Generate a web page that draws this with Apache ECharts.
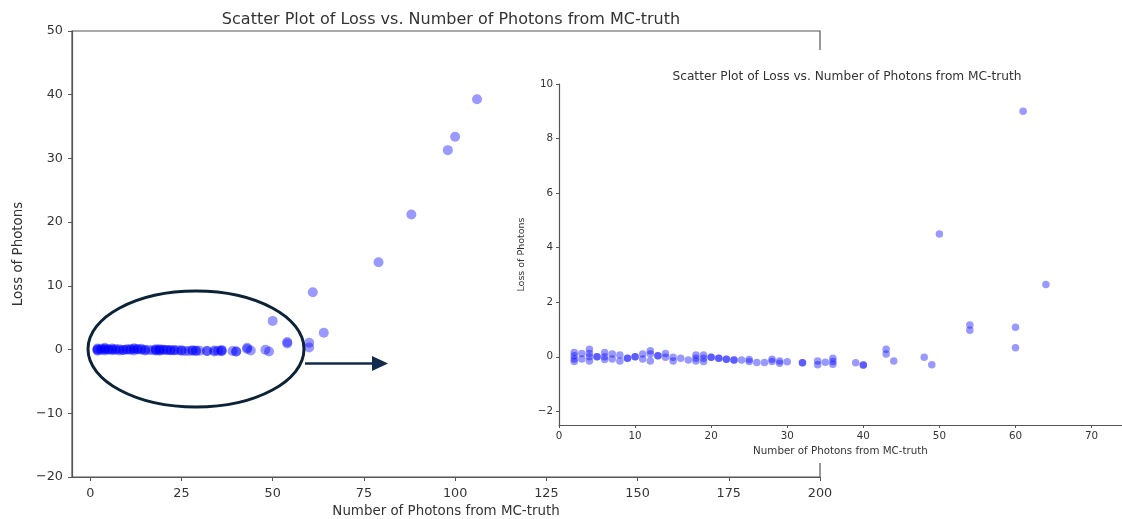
<!DOCTYPE html>
<html>
<head>
<meta charset="utf-8">
<script src="https://cdn.jsdelivr.net/npm/echarts@6/dist/echarts.min.js"></script>
<style>
html,body{margin:0;padding:0;background:#fff;}
#chart{width:1122px;height:519px;}
</style>
</head>
<body>
<div id="chart"></div>
<script>
// ---- data ----
const photons = [
  2,2,2,2, 3,3, 4,4,4,4, 5,5, 6,6,6, 7,7, 8,8, 9,9, 10,10, 11,11, 12,12,12, 13,13,
  14,14, 15,15, 16, 17, 18,18,18, 19,19,19, 20,20, 21,21, 22,22, 23,23, 24, 25,25,
  26, 27, 28,28, 29,29, 30, 32,32, 34,34, 35, 36,36,36, 39, 40,40,
  43,43, 44, 48, 49, 50, 54,54, 60,60, 61, 64, 79, 88, 98, 100, 106
];
const loss = [
  0.16,0.04,-0.08,-0.17, 0.12,-0.08, 0.28,0.12,0.00,-0.15, 0.00,0.00, 0.16,0.00,-0.10, 0.10,-0.08, 0.07,-0.15, -0.05,-0.05, 0.00,0.00, 0.10,-0.08, 0.22,0.10,-0.15, 0.04,0.04,
  0.12,-0.02, -0.02,-0.15, -0.05, -0.12, 0.07,-0.05,-0.15, 0.07,-0.05,-0.17, -0.02,-0.02, -0.05,-0.05, -0.09,-0.09, -0.12,-0.12, -0.12, -0.10,-0.17,
  -0.21, -0.21, -0.09,-0.17, -0.15,-0.24, -0.18, -0.22,-0.22, -0.15,-0.29, -0.20, -0.05,-0.17,-0.27, -0.22, -0.30,-0.30,
  0.28,0.10, -0.15, -0.02, -0.29, 4.50, 1.17,0.97, 1.08,0.33, 9.00, 2.65, 13.7, 21.2, 31.3, 33.4, 39.3
];
const mainXTicks = [0, 25, 50, 75, 100, 125, 150, 175, 200];
const insetXTicks = [0, 10, 20, 30, 40, 50, 60, 70];
const insetYTicks = [-2, 0, 2, 4, 6, 8, 10];
const titleText = 'Scatter Plot of Loss vs. Number of Photons from MC-truth';
const xName = 'Number of Photons from MC-truth';
const yName = 'Loss of Photons';

const points = photons.map((x, i) => [x, loss[i]]);

const FONT = 'DejaVu Sans';
const AX = '#555';
const TX = '#333';
const fmt = v => String(v).replace('-', '\u2212');

const chart = echarts.init(document.getElementById('chart'), null, {renderer: 'canvas'});

function axisCommon(fs) {
  return {
    axisLine: {show: true, onZero: false, lineStyle: {color: AX, width: 1.2}},
    axisTick: {show: true, inside: false, length: 4, lineStyle: {color: AX, width: 1}},
    axisLabel: {color: TX, fontFamily: FONT, fontSize: fs, formatter: fmt},
    splitLine: {show: false},
    nameTextStyle: {color: TX, fontFamily: FONT, fontSize: fs},
    nameLocation: 'middle'
  };
}

const option = {
  backgroundColor: '#fff',
  animation: false,
  title: [
    {text: titleText, left: 446, top: 7, textAlign: 'center',
     textStyle: {color: TX, fontFamily: FONT, fontSize: 16, fontWeight: 'normal'}},
    {text: titleText, left: 842, top: 66, textAlign: 'center', z: 60,
     textStyle: {color: TX, fontFamily: FONT, fontSize: 12.2, fontWeight: 'normal'}}
  ],
  grid: [
    {left: 72, top: 31, right: 302, bottom: 42, show: true, borderColor: AX, borderWidth: 1.2,
     containLabel: false, outerBoundsMode: 'none'},
    {left: 559, top: 84, right: 0, bottom: 94, z: 60, containLabel: false, outerBoundsMode: 'none'}
  ],
  xAxis: [
    Object.assign(axisCommon(12.8), {
      gridIndex: 0, type: 'value', min: -5, max: 200, name: xName, nameGap: 28,
      nameTextStyle: {color: TX, fontFamily: FONT, fontSize: 13.4},
      axisTick: {show: true, length: 4, customValues: mainXTicks, lineStyle: {color: AX}},
      axisLabel: {color: TX, fontFamily: FONT, fontSize: 12.8, margin: 10, customValues: mainXTicks, formatter: fmt}
    }),
    Object.assign(axisCommon(10.3), {
      gridIndex: 1, type: 'value', min: 0, max: 74, name: xName, nameGap: 20, z: 60,
      axisTick: {show: true, length: 3, customValues: insetXTicks, lineStyle: {color: AX}},
      axisLabel: {color: TX, fontFamily: FONT, fontSize: 10.3, margin: 6, customValues: insetXTicks, formatter: fmt}
    })
  ],
  yAxis: [
    Object.assign(axisCommon(12.8), {
      gridIndex: 0, type: 'value', min: -20, max: 50, interval: 10, name: yName, nameGap: 44,
      nameTextStyle: {color: TX, fontFamily: FONT, fontSize: 13.4},
      axisLabel: {color: TX, fontFamily: FONT, fontSize: 12.8, margin: 9, formatter: fmt}
    }),
    Object.assign(axisCommon(10.3), {
      gridIndex: 1, type: 'value', min: -2.5, max: 10, name: yName, nameGap: 28, z: 60,
      nameTextStyle: {color: TX, fontFamily: FONT, fontSize: 9.5},
      axisTick: {show: true, length: 3, customValues: insetYTicks, lineStyle: {color: AX}},
      axisLabel: {color: TX, fontFamily: FONT, fontSize: 10.3, margin: 6, customValues: insetYTicks, formatter: fmt}
    })
  ],
  series: [
    {type: 'scatter', xAxisIndex: 0, yAxisIndex: 0, data: points, symbolSize: 10,
     itemStyle: {color: 'rgba(0,0,255,0.5)'}, z: 2},
    {type: 'scatter', xAxisIndex: 1, yAxisIndex: 1, data: points, symbolSize: 7.5, clip: true,
     itemStyle: {color: 'rgba(0,0,255,0.5)'}, z: 60}
  ],
  graphic: [
    // white background of the pasted zoomed-in panel
    {type: 'rect', z: 50, silent: true,
     shape: {x: 500, y: 50, width: 622, height: 413}, style: {fill: '#fff'}},
    // annotation ellipse around the dense region
    {type: 'ellipse', z: 40, silent: true,
     shape: {cx: 196, cy: 349, rx: 108, ry: 58},
     style: {fill: null, stroke: '#0c2236', lineWidth: 3}},
    // annotation arrow
    {type: 'line', z: 40, silent: true,
     shape: {x1: 305, y1: 363.5, x2: 374, y2: 363.5},
     style: {stroke: '#122b4f', lineWidth: 2.5}},
    {type: 'polygon', z: 40, silent: true,
     shape: {points: [[372, 356], [388, 363.5], [372, 371]]},
     style: {fill: '#122b4f'}}
  ]
};
chart.setOption(option);
</script>
</body>
</html>
